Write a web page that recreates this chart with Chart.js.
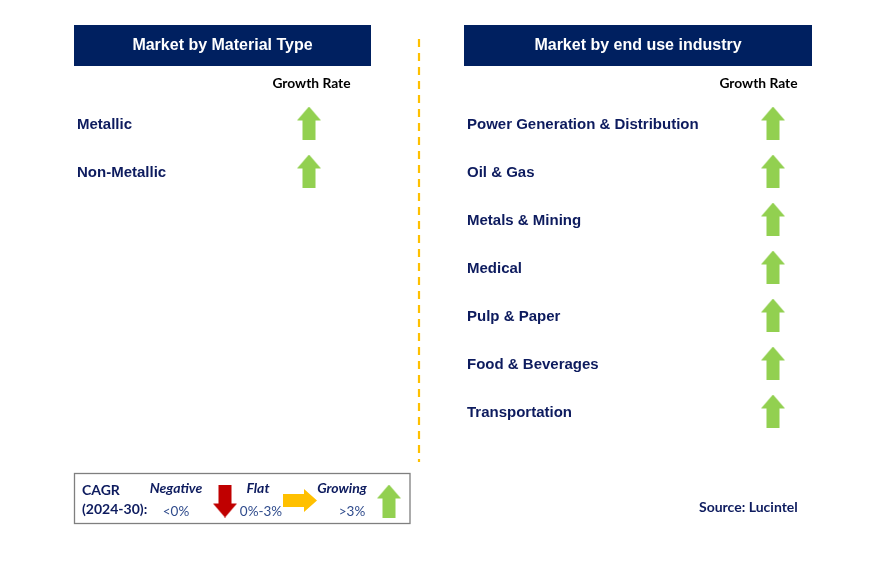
<!DOCTYPE html>
<html>
<head>
<meta charset="utf-8">
<script src="https://cdn.jsdelivr.net/npm/chart.js@4.4.0/dist/chart.umd.min.js"></script>
<style>
  html, body { margin: 0; padding: 0; background: #fff; }
  canvas { display: block; }
</style>
</head>
<body>
<canvas id="growthChart" width="876" height="570"></canvas>
<script>
// segments and their growth class (CAGR 2024-30)
var materialTypes = ["Metallic", "Non-Metallic"];
var materialGrowth = ["growing", "growing"];
var endUseIndustries = [
    "Power Generation & Distribution",
    "Oil & Gas",
    "Metals & Mining",
    "Medical",
    "Pulp & Paper",
    "Food & Beverages",
    "Transportation"
];
var endUseGrowth = ["growing", "growing", "growing", "growing", "growing", "growing", "growing"];
var legendStates = ["negative", "flat", "growing"];
var legendNames = ["Negative", "Flat", "Growing"];
var legendRanges = ["<0%", "0%-3%", ">3%"];

var NAVY = "#002060";
var TEXT = "#0d1b5e";
var CALIBRI = "Lato, 'Open Sans', sans-serif";
var ARIAL = "'Liberation Sans', Arial, sans-serif";

// arrow glyphs used as point styles
function makeArrow(state) {
    var c = document.createElement('canvas');
    var g;
    if (state === 'flat') {
        c.width = 34; c.height = 23;
        g = c.getContext('2d');
        g.fillStyle = "#ffc000";
        g.beginPath();
        g.moveTo(0, 5); g.lineTo(21, 5); g.lineTo(21, 0); g.lineTo(34, 11.5);
        g.lineTo(21, 23); g.lineTo(21, 18); g.lineTo(0, 18);
        g.closePath(); g.fill();
        return c;
    }
    c.width = 24; c.height = 33;
    g = c.getContext('2d');
    if (state === 'negative') {
        g.fillStyle = "#c00000";
        g.translate(0, 33); g.scale(1, -1);
    } else {
        g.fillStyle = "#92d050";
    }
    g.beginPath();
    g.moveTo(12, 0); g.lineTo(24, 14); g.lineTo(18.5, 14); g.lineTo(18.5, 33);
    g.lineTo(5.5, 33); g.lineTo(5.5, 14); g.lineTo(0, 14);
    g.closePath(); g.fill();
    return c;
}
var arrows = {
    negative: makeArrow('negative'),
    flat: makeArrow('flat'),
    growing: makeArrow('growing')
};

// row 0 sits at y=123 px, rows 48 px apart
var ROW0 = 123, ROWH = 48;
var LEFT_COL = 309, RIGHT_COL = 773;

function rowsData(list, col) {
    return list.map(function (s, i) { return { x: col, y: i }; });
}

var panelText = {
    id: 'panelText',
    afterDraw: function (chart) {
        var ctx = chart.ctx;
        var ys = chart.scales.y;
        ctx.save();

        // header bars
        ctx.fillStyle = NAVY;
        ctx.fillRect(74, 25, 297, 41);
        ctx.fillRect(464, 25, 348, 41);
        ctx.fillStyle = "#ffffff";
        ctx.font = "bold 16px " + ARIAL;
        ctx.textAlign = "center";
        ctx.textBaseline = "middle";
        ctx.fillText("Market by Material Type", 222.5, 45.5);
        ctx.fillText("Market by end use industry", 638, 45.5);

        // column captions
        ctx.fillStyle = "#000000";
        ctx.font = "bold 13.8px " + CALIBRI;
        ctx.fillText("Growth Rate", 311.5, 84);
        ctx.fillText("Growth Rate", 758.5, 84);

        // row labels
        ctx.fillStyle = TEXT;
        ctx.font = "bold 15px " + ARIAL;
        ctx.textAlign = "left";
        materialTypes.forEach(function (s, i) {
            ctx.fillText(s, 77, ys.getPixelForValue(i) + 2);
        });
        endUseIndustries.forEach(function (s, i) {
            ctx.fillText(s, 467, ys.getPixelForValue(i) + 2);
        });

        // divider
        ctx.strokeStyle = "#ffc000";
        ctx.lineWidth = 2.2;
        ctx.setLineDash([8, 6]);
        ctx.beginPath();
        ctx.moveTo(419, 39);
        ctx.lineTo(419, 462);
        ctx.stroke();
        ctx.setLineDash([]);

        // CAGR legend box
        ctx.strokeStyle = "#7f7f7f";
        ctx.lineWidth = 1.3;
        ctx.strokeRect(74.5, 473.5, 335.5, 50);
        ctx.fillStyle = TEXT;
        ctx.font = "bold 14px " + CALIBRI;
        ctx.textAlign = "left";
        ctx.fillText("CAGR", 82, 490);
        ctx.fillText("(2024-30):", 82, 509);

        var nameX = [176, 258, 342];
        var rangeX = [176, 261, 352];
        var arrowPos = [[225, 501], [300, 500.5], [389, 501]];
        legendStates.forEach(function (st, i) {
            ctx.textAlign = "center";
            ctx.fillStyle = TEXT;
            ctx.font = "italic bold 14px " + CALIBRI;
            ctx.fillText(legendNames[i], nameX[i], 488);
            ctx.fillStyle = "#2f4b8c";
            ctx.font = "13.5px " + CALIBRI;
            ctx.fillText(legendRanges[i], rangeX[i], 512);
            var img = arrows[st];
            ctx.drawImage(img, arrowPos[i][0] - img.width / 2, arrowPos[i][1] - img.height / 2);
        });

        // source
        ctx.fillStyle = TEXT;
        ctx.font = "bold 14px " + CALIBRI;
        ctx.textAlign = "left";
        ctx.fillText("Source: Lucintel", 699, 507);

        ctx.restore();
    }
};

var growthChart = new Chart(document.getElementById('growthChart'), {
    type: 'scatter',
    data: {
        datasets: [{
            label: 'Material type',
            data: rowsData(materialTypes, LEFT_COL),
            pointStyle: materialGrowth.map(function (g) { return arrows[g]; })
        }, {
            label: 'End use industry',
            data: rowsData(endUseIndustries, RIGHT_COL),
            pointStyle: endUseGrowth.map(function (g) { return arrows[g]; })
        }]
    },
    options: {
        responsive: false,
        animation: false,
        events: [],
        layout: { padding: 0, autoPadding: false },
        plugins: {
            legend: { display: false },
            title: { display: false },
            tooltip: { enabled: false }
        },
        scales: {
            x: { type: 'linear', display: false, min: 0, max: 876 },
            y: {
                type: 'linear', display: false, reverse: true,
                min: -ROW0 / ROWH, max: (570 - ROW0) / ROWH
            }
        }
    },
    plugins: [panelText]
});
</script>
</body>
</html>
